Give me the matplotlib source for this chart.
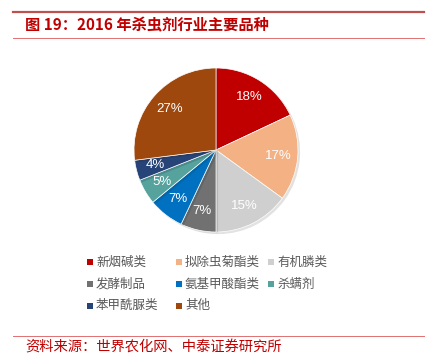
import matplotlib
matplotlib.use("Agg")
from matplotlib import pyplot as plt
from matplotlib.lines import Line2D
from matplotlib.patches import Rectangle
import matplotlib.patheffects as pe

plt.rcParams['font.family'] = ['Noto Sans CJK SC', 'DejaVu Sans']

# 数据
names = ["新烟碱类", "拟除虫菊酯类", "有机膦类", "发酵制品", "氨基甲酸酯类", "杀螨剂", "苯甲酰脲类", "其他"]
shares = [18, 17, 15, 7, 7, 5, 4, 27]
colors = ["#C00000", "#F4B183", "#CFCFCF", "#717171", "#0070C0", "#56A29C", "#264478", "#9E480E"]

fig = plt.figure(figsize=(4.26, 3.54), dpi=100)
W, H = 426, 354

# 标题与分隔线
fig.add_artist(Line2D([13 / W, 424 / W], [1 - 12 / H, 1 - 12 / H], color="#C0504D", lw=1.6))
fig.add_artist(Line2D([13 / W, 424 / W], [1 - 38 / H, 1 - 38 / H], color="#E07070", lw=0.7))
fig.text(25 / W, 1 - 25 / H, "图 19：2016 年杀虫剂行业主要品种", color="#C00000",
         fontsize=11, fontweight="bold", va="center", ha="left")

# 饼图
R = 82
ax = fig.add_axes([(216 - R) / W, 1 - (150 + R) / H, 2 * R / W, 2 * R / H])
wedges, texts, autotexts = ax.pie(shares, colors=colors, startangle=90, counterclock=False,
                                  autopct="%d%%", pctdistance=0.76,
                                  textprops={"color": "white", "fontsize": 9.5,
                                             "family": ["Liberation Sans", "DejaVu Sans"]},
                                  wedgeprops={"linewidth": 0.5, "edgecolor": "white"})
for w in wedges:
    w.set_path_effects([pe.SimplePatchShadow(offset=(1.5, -1.5), alpha=0.15), pe.Normal()])
ax.set_xlim(-1, 1)
ax.set_ylim(-1, 1)
ax.set_aspect("equal")

# 图例（按行排列，3列，列宽不等）
col_x = [87, 176, 268]
row_y = [262, 284, 305.5]
for i, (name, c) in enumerate(zip(names, colors)):
    x = col_x[i % 3]
    y = row_y[i // 3]
    fig.add_artist(Rectangle((x / W, (H - y - 3) / H), 6 / W, 6 / H, facecolor=c,
                             edgecolor="none", transform=fig.transFigure))
    fig.text((x + 9) / W, 1 - y / H, name, color="#595959", fontsize=9,
             va="center", ha="left")

# 资料来源
fig.add_artist(Line2D([13 / W, 424 / W], [1 - 336 / H, 1 - 336 / H], color="#E07070", lw=0.7))
fig.text(25 / W, 1 - 348 / H, "资料来源：世界农化网、中泰证券研究所", color="#C00000",
         fontsize=10.3, va="center", ha="left")

plt.savefig("out.png", dpi=100)
